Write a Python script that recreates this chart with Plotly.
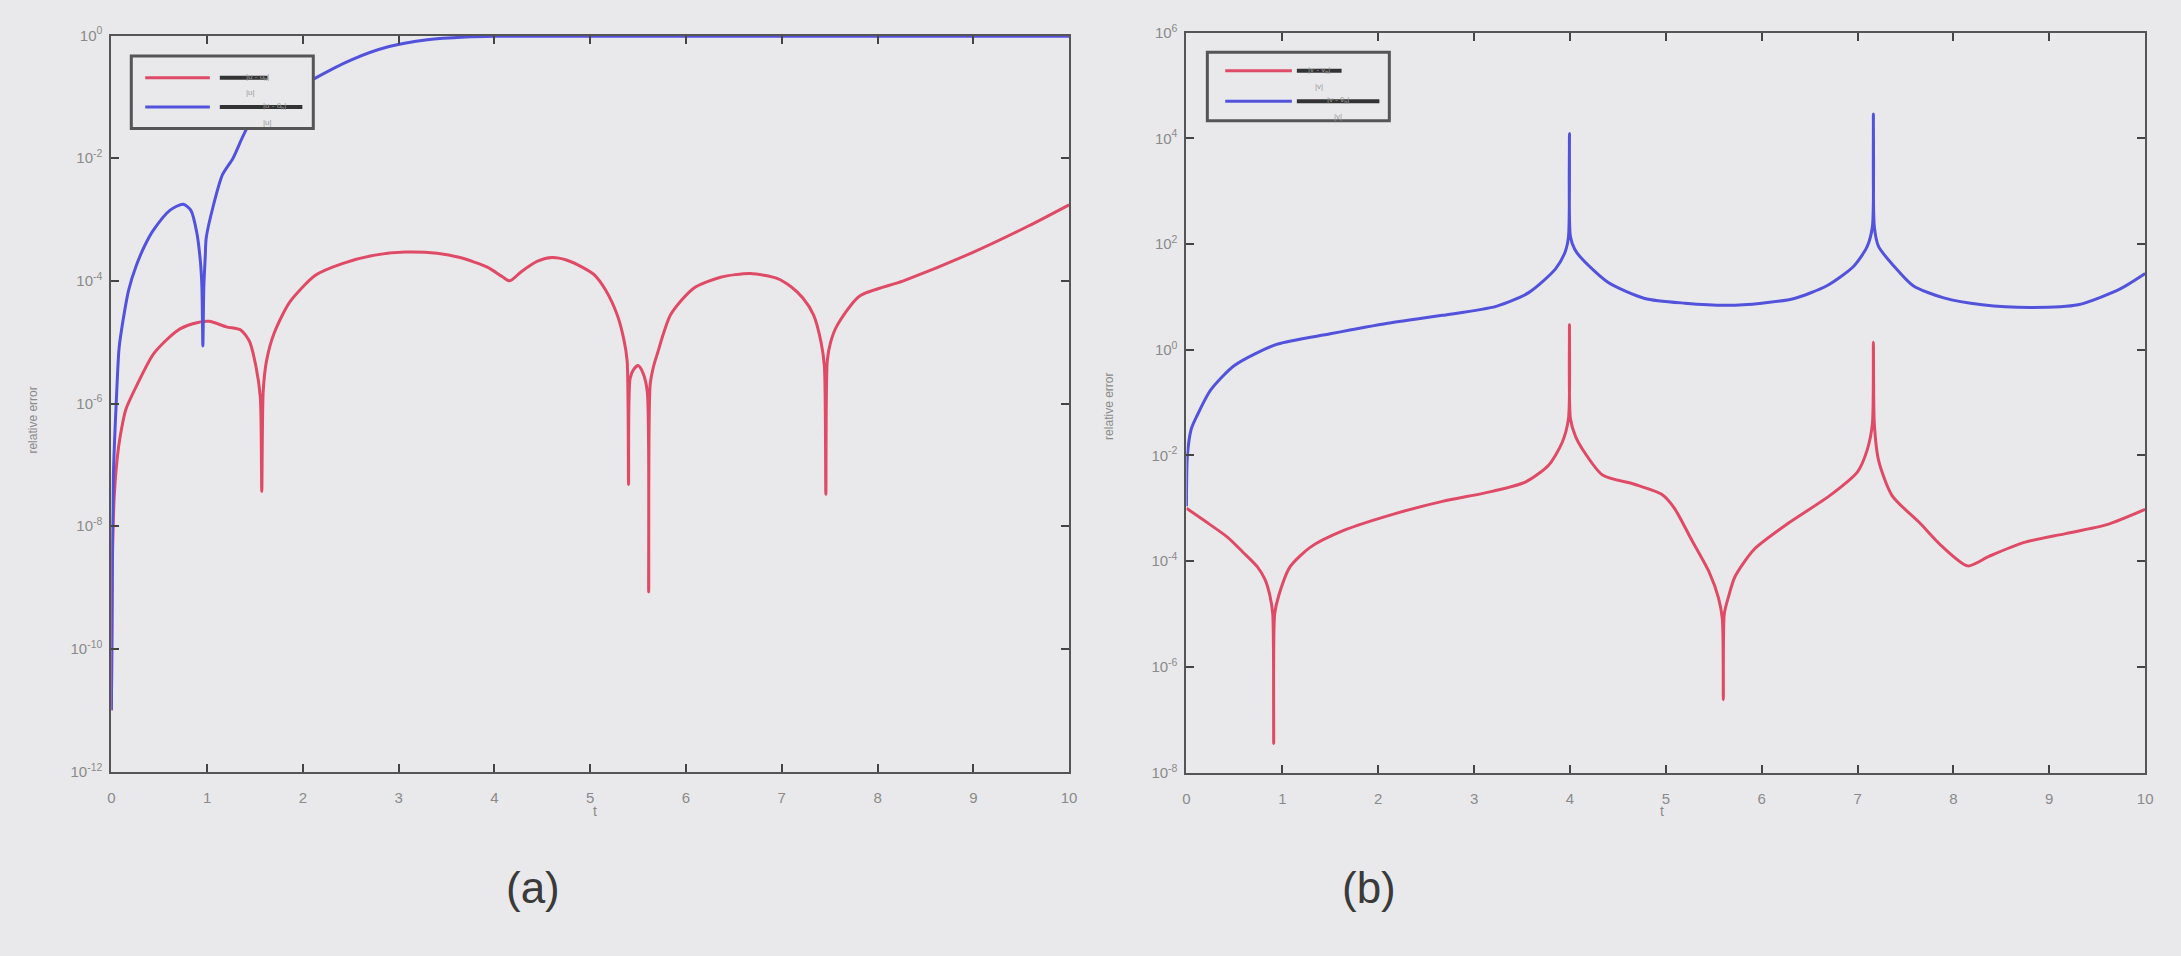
import plotly.graph_objects as go

# ---- panel (a): time grid and log10 of the relative errors ----
t_a_red = [0, 0.01, 0.03, 0.06, 0.09, 0.15, 0.26, 0.44, 0.68, 0.85, 1.02, 1.2, 1.35, 1.44,
           1.51, 1.555, 1.57, 1.585, 1.62, 1.7, 1.86, 2.13, 2.41, 2.75, 3.07, 3.4, 3.64,
           3.93, 4.08, 4.16, 4.28, 4.45, 4.6, 4.75, 4.92, 5.04, 5.16, 5.28, 5.35, 5.385,
           5.40, 5.415, 5.45, 5.50, 5.55, 5.595, 5.61, 5.625, 5.66, 5.70, 5.84, 6.08,
           6.36, 6.67, 6.95, 7.1, 7.22, 7.33, 7.41, 7.445, 7.46, 7.475, 7.51, 7.57,
           7.81, 8.27, 8.99, 9.57, 10]
exp_a_red = [-11.0, -8.6, -7.5, -6.9, -6.55, -6.1, -5.72, -5.19, -4.82, -4.7, -4.66, -4.75,
             -4.8, -4.98, -5.4, -5.9, -7.43, -5.8, -5.3, -4.85, -4.35, -3.91, -3.72, -3.58,
             -3.53, -3.55, -3.62, -3.78, -3.93, -4.0, -3.85, -3.68, -3.62, -3.66, -3.78,
             -3.9, -4.15, -4.55, -4.95, -5.3, -7.32, -5.6, -5.45, -5.38, -5.5, -5.8, -9.07,
             -5.7, -5.4, -5.19, -4.55, -4.12, -3.94, -3.88, -3.96, -4.1, -4.28, -4.55,
             -5.0, -5.4, -7.48, -5.3, -5.0, -4.75, -4.25, -4.0, -3.54, -3.11, -2.76]

t_a_blue = [0, 0.01, 0.02, 0.05, 0.08, 0.12, 0.18, 0.26, 0.35, 0.44, 0.61, 0.75, 0.83,
            0.89, 0.93, 0.945, 0.955, 0.965, 0.98, 0.99, 1.06, 1.16, 1.27, 1.44, 1.7,
            2.1, 2.5, 2.9, 3.3, 3.7, 4.0, 10]
exp_a_blue = [-11.0, -8.5, -7.2, -6.0, -5.1, -4.66, -4.15, -3.75, -3.42, -3.17, -2.85,
              -2.75, -2.85, -3.2, -3.7, -4.1, -5.06, -4.1, -3.6, -3.3, -2.8, -2.27, -2.0,
              -1.45, -1.1, -0.72, -0.4, -0.18, -0.07, -0.025, -0.012, -0.012]

# ---- panel (b) ----
t_b_red = [0, 0.2, 0.43, 0.6, 0.74, 0.82, 0.87, 0.9, 0.91, 0.92, 0.96, 1.08, 1.29, 1.64,
           2.16, 2.67, 3.19, 3.54, 3.78, 3.92, 3.985, 3.995, 4.005, 4.06, 4.13, 4.34,
           4.68, 4.96, 5.09, 5.27, 5.45, 5.55, 5.59, 5.6, 5.61, 5.65, 5.72, 5.92, 6.28,
           6.71, 7.0, 7.1, 7.155, 7.165, 7.175, 7.22, 7.36, 7.65, 7.87, 8.15, 8.37,
           8.73, 9.17, 9.6, 10]
exp_b_red = [-3.0, -3.25, -3.55, -3.85, -4.11, -4.35, -4.65, -5.0, -7.45, -5.0, -4.67,
             -4.11, -3.74, -3.42, -3.11, -2.87, -2.68, -2.5, -2.18, -1.75, -1.3, 0.47,
             -1.3, -1.65, -1.88, -2.37, -2.55, -2.74, -3.0, -3.6, -4.2, -4.7, -5.1, -6.62,
             -5.0, -4.7, -4.3, -3.78, -3.28, -2.76, -2.31, -1.9, -1.4, 0.14, -1.4, -2.1,
             -2.76, -3.28, -3.7, -4.09, -3.91, -3.65, -3.48, -3.31, -3.02]

t_b_blue = [0, 0.01, 0.05, 0.11, 0.25, 0.5, 0.94, 1.5, 2.1, 2.67, 3.23, 3.57, 3.85, 3.95,
            3.985, 3.995, 4.005, 4.05, 4.13, 4.4, 4.78, 5.2, 5.64, 6.0, 6.34, 6.68, 6.96,
            7.1, 7.155, 7.165, 7.175, 7.22, 7.38, 7.58, 7.9, 8.3, 8.8, 9.3, 9.74, 10]
exp_b_blue = [-2.96, -2.0, -1.5, -1.25, -0.77, -0.3, 0.1, 0.3, 0.5, 0.65, 0.82, 1.08,
              1.53, 1.85, 2.14, 4.09, 2.14, 1.9, 1.71, 1.27, 0.97, 0.88, 0.84, 0.88, 0.97,
              1.21, 1.58, 1.95, 2.33, 4.46, 2.33, 1.95, 1.58, 1.21, 0.98, 0.85, 0.8, 0.85,
              1.15, 1.44]

x_ticks = list(range(0, 11))
y_ticks_a = [-12, -10, -8, -6, -4, -2, 0]
y_ticks_b = [-8, -6, -4, -2, 0, 2, 4, 6]

RED = "#df4a66"
BLUE = "#5252dc"
BG = "#e9e9eb"
W, H = 2181, 956

fig = go.Figure()
for t, e, c, xa, ya in [
    (t_a_red, exp_a_red, RED, "x", "y"),
    (t_a_blue, exp_a_blue, BLUE, "x", "y"),
    (t_b_red, exp_b_red, RED, "x2", "y2"),
    (t_b_blue, exp_b_blue, BLUE, "x2", "y2"),
]:
    fig.add_trace(go.Scatter(x=t, y=[10 ** v for v in e], mode="lines",
                             line=dict(color=c, width=3, shape="spline", smoothing=0.7),
                             xaxis=xa, yaxis=ya, showlegend=False))

tick_font = dict(family="Liberation Sans", size=15, color="#8a8a8a")
axis_common = dict(showline=True, linecolor="#555555", linewidth=2, mirror="ticks",
                   ticks="inside", ticklen=8, tickwidth=2, tickcolor="#444444",
                   showgrid=False, zeroline=False, tickfont=tick_font)


def sup(p):
    return "10<sup>%d</sup>" % p


fig.update_layout(
    width=W, height=H, margin=dict(l=0, r=0, t=0, b=0),
    paper_bgcolor=BG, plot_bgcolor=BG, showlegend=False,
    xaxis=dict(domain=[108 / W, 1071 / W], range=[0, 10], tickvals=x_ticks,
               anchor="y", ticklabelstandoff=11, **axis_common),
    yaxis=dict(domain=[1 - 776 / H, 1 - 25 / H], type="log", range=[-12, 0],
               tickvals=[10 ** p for p in y_ticks_a], ticktext=[sup(p) for p in y_ticks_a],
               anchor="x", ticklabelstandoff=4, **axis_common),
    xaxis2=dict(domain=[1189 / W, 2153 / W], range=[0, 10], tickvals=x_ticks,
                anchor="y2", ticklabelstandoff=11, **axis_common),
    yaxis2=dict(domain=[1 - 777 / H, 1 - 22 / H], type="log", range=[-8, 6],
                tickvals=[10 ** p for p in y_ticks_b], ticktext=[sup(p) for p in y_ticks_b],
                anchor="x2", ticklabelstandoff=4, **axis_common),
)


def px(x):
    return x / W


def py(y):
    return 1 - y / H


shapes = []
annotations = []

# hand-built legends: coloured sample line, then a fraction label
legends = [
    dict(box=(128, 46, 311, 120), rows=[(68, RED, 142, 207, 217, 265, "|u - u<sub>h</sub>|", "|u|"),
                                        (98, BLUE, 142, 207, 217, 300, "|u - ũ<sub>h</sub>|", "|u|")]),
    dict(box=(1210, 42, 1393, 112), rows=[(61, RED, 1228, 1295, 1300, 1345, "|v - v<sub>h</sub>|", "|v|"),
                                          (92, BLUE, 1228, 1295, 1300, 1383, "|v - ṽ<sub>h</sub>|", "|v|")]),
]
for lg in legends:
    x0, y0, x1, y1 = lg["box"]
    shapes.append(dict(type="rect", xref="paper", yref="paper", x0=px(x0), x1=px(x1),
                       y0=py(y1), y1=py(y0), line=dict(color="#555555", width=3),
                       fillcolor=BG, layer="above"))
    for yy, col, lx0, lx1, bx0, bx1, num, den in lg["rows"]:
        shapes.append(dict(type="line", xref="paper", yref="paper", x0=px(lx0), x1=px(lx1),
                           y0=py(yy), y1=py(yy), line=dict(color=col, width=3), layer="above"))
        shapes.append(dict(type="line", xref="paper", yref="paper", x0=px(bx0), x1=px(bx1),
                           y0=py(yy), y1=py(yy), line=dict(color="#333333", width=4),
                           layer="above"))
        cx = (bx0 + bx1) / 2
        annotations.append(dict(x=px(cx), y=py(yy - 8), xref="paper", yref="paper",
                                text=num, showarrow=False,
                                font=dict(family="Liberation Sans", size=8, color="#9a9a9a")))
        annotations.append(dict(x=px(cx), y=py(yy + 9), xref="paper", yref="paper",
                                text=den, showarrow=False,
                                font=dict(family="Liberation Sans", size=8, color="#9a9a9a")))

label_font = dict(family="Liberation Sans", size=12, color="#8a8a8a")
for x, y in [(20, 417), (1111, 403)]:
    annotations.append(dict(x=px(x), y=py(y), xref="paper", yref="paper", text="relative error",
                            textangle=-90, showarrow=False, font=label_font))
for x in [590, 1671]:
    annotations.append(dict(x=px(x), y=py(826), xref="paper", yref="paper", text="t",
                            showarrow=False, font=dict(family="Liberation Sans", size=14,
                                                       color="#8a8a8a")))
for x, txt in [(503, "(a)"), (1373, "(b)")]:
    annotations.append(dict(x=px(x), y=py(921), xref="paper", yref="paper", text=txt,
                            showarrow=False, font=dict(family="Liberation Sans", size=44,
                                                       color="#3a3a3a")))

fig.update_layout(shapes=shapes, annotations=annotations)
fig.write_html("out.html")
